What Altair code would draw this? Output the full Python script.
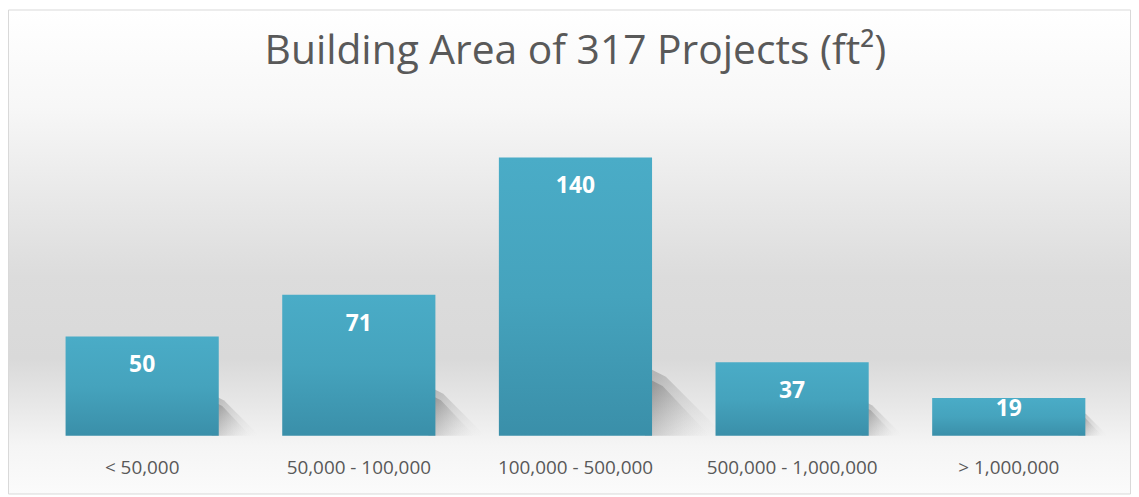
import altair as alt
import pandas as pd

categories = ["< 50,000", "50,000 - 100,000", "100,000 - 500,000", "500,000 - 1,000,000", "> 1,000,000"]
counts = [50, 71, 140, 37, 19]
title_text = "Building Area of 317 Projects (ft²)"

df = pd.DataFrame({"range": categories, "count": counts})

W, H = 1090, 320
PL, PT, PR, PB = 26, 109, 14, 59

FONT = "Open Sans"
GREY_TXT = "#595959"

bg_grad = alt.Gradient(
    gradient="linear", x1=0, y1=0, x2=0, y2=1,
    stops=[
        alt.GradientStop(color="#ffffff", offset=0.0),
        alt.GradientStop(color="#f7f7f7", offset=0.2),
        alt.GradientStop(color="#dcdcdc", offset=0.55),
        alt.GradientStop(color="#d9d9d9", offset=0.72),
        alt.GradientStop(color="#e8e8e8", offset=0.82),
        alt.GradientStop(color="#f5f5f5", offset=0.9),
        alt.GradientStop(color="#fbfbfb", offset=1.0),
    ],
)

bar_grad = alt.Gradient(
    gradient="linear", x1=0, y1=0, x2=0, y2=1,
    stops=[
        alt.GradientStop(color="#4aacc7", offset=0.0),
        alt.GradientStop(color="#45a3bd", offset=0.5),
        alt.GradientStop(color="#3a8fa9", offset=1.0),
    ],
)

shadow_grad = alt.Gradient(
    gradient="linear", x1=0, y1=0.3, x2=1, y2=1,
    stops=[
        alt.GradientStop(color="rgba(110,110,110,0.45)", offset=0.0),
        alt.GradientStop(color="rgba(160,160,160,0.22)", offset=0.5),
        alt.GradientStop(color="rgba(220,220,220,0)", offset=1.0),
    ],
)

x_scale = alt.Scale(paddingInner=0.293, paddingOuter=0.1465)
y_scale = alt.Scale(domain=[0, 160])

x_axis = alt.Axis(
    title=None, labelAngle=0, domain=False, ticks=False, grid=False,
    labelFont=FONT, labelFontSize=19, labelColor=GREY_TXT, labelPadding=23,
    zindex=2,
)

bg = alt.Chart(pd.DataFrame({"a": [0]})).mark_rect(
    fill=bg_grad, stroke="#d9d9d9", strokeWidth=1
).encode(
    x=alt.value(-PL + 0.5), x2=alt.value(W + PR - 0.5),
    y=alt.value(-PT + 0.5), y2=alt.value(H + PB - 0.5),
)

base = alt.Chart(df)

shadow_outer = base.transform_calculate(
    zero="0", ssize="140 * datum.count"
).mark_point(
    shape="M0,0 L0,-1 L0.3,-0.85 L1.15,0 Z",
    filled=True, fill=shadow_grad, strokeWidth=0, opacity=0.8, xOffset=70,
).encode(
    x=alt.X("range:N", sort=categories, scale=x_scale, axis=x_axis),
    y=alt.Y("zero:Q", scale=y_scale, axis=None),
    size=alt.Size("ssize:Q", scale=None, legend=None),
)

shadow_inner = base.transform_calculate(
    zero="0", ssize="100 * datum.count"
).mark_point(
    shape="M0,0 L0,-1 L0.3,-0.85 L1.1,0 Z",
    filled=True, fill=shadow_grad, strokeWidth=0, opacity=1, xOffset=70,
).encode(
    x=alt.X("range:N", sort=categories, scale=x_scale, axis=x_axis),
    y=alt.Y("zero:Q", scale=y_scale, axis=None),
    size=alt.Size("ssize:Q", scale=None, legend=None),
)

bars = base.mark_bar(fill=bar_grad).encode(
    x=alt.X("range:N", sort=categories, scale=x_scale, axis=x_axis),
    y=alt.Y("count:Q", scale=y_scale, axis=None),
)

labels = base.transform_calculate(
    label_y="datum.count > 30 ? datum.count - 14.5 : datum.count - 5.5"
).mark_text(
    font=FONT, fontSize=23, fontWeight="bold", color="#ffffff", baseline="middle"
).encode(
    x=alt.X("range:N", sort=categories, scale=x_scale, axis=x_axis),
    y=alt.Y("label_y:Q", scale=y_scale, axis=None),
    text=alt.Text("count:Q"),
)

chart = alt.layer(bg, shadow_outer, shadow_inner, bars, labels).properties(
    width=W, height=H,
    title=alt.TitleParams(
        text=title_text, font=FONT, fontSize=41, fontWeight="normal",
        color=GREY_TXT, anchor="middle", baseline="alphabetic", offset=-96,
        zindex=2,
    ),
    padding={"left": PL, "top": PT, "right": PR, "bottom": PB},
    autosize=alt.AutoSizeParams(type="none"),
).configure_view(stroke=None).configure(background="#ffffff")

chart.save("out.html", embed_options={"renderer": "svg", "actions": False})
